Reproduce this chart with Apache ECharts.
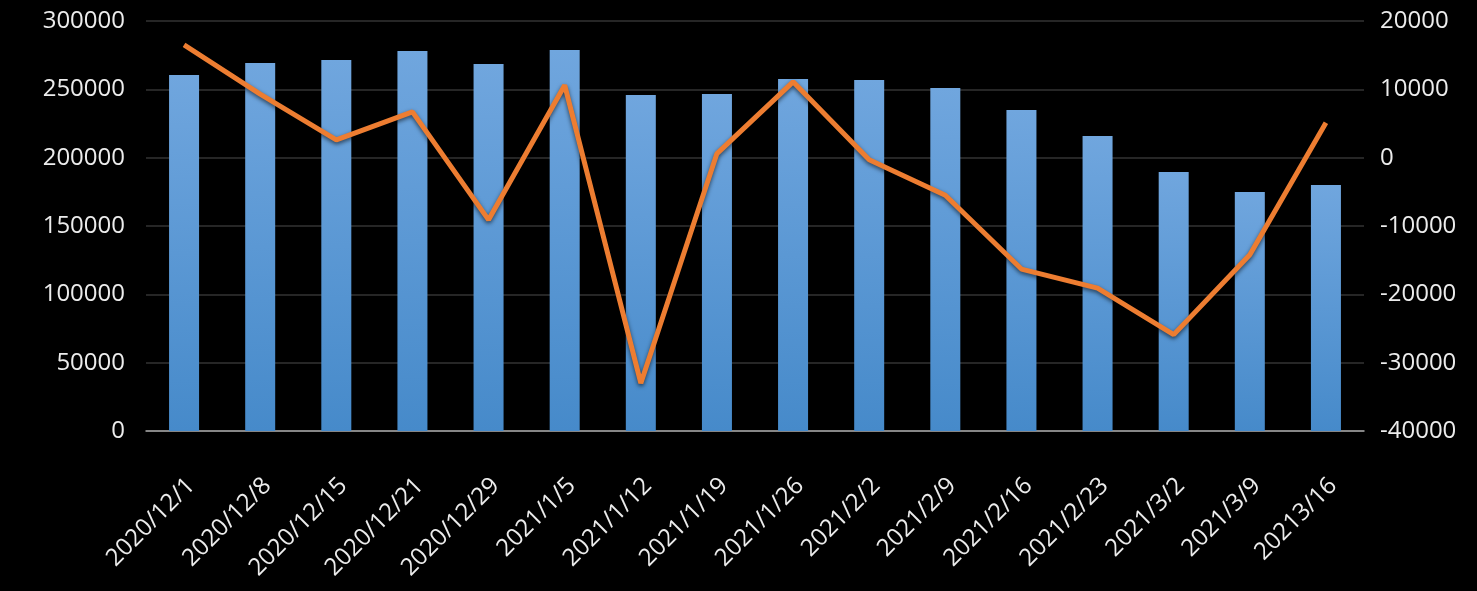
<!DOCTYPE html>
<html><head><meta charset="utf-8">
<script src="https://cdn.jsdelivr.net/npm/echarts@6/dist/echarts.min.js"></script>
<style>html,body{margin:0;padding:0;background:#000}#c{width:1477px;height:591px}</style>
</head><body><div id="c"></div>
<script>
const categories = ['2020/12/1','2020/12/8','2020/12/15','2020/12/21','2020/12/29','2021/1/5','2021/1/12','2021/1/19','2021/1/26','2021/2/2','2021/2/9','2021/2/16','2021/2/23','2021/3/2','2021/3/9','20213/16'];
const barValues = [260500, 269300, 271500, 278000, 268500, 278800, 245900, 246600, 257600, 256800, 251000, 234900, 215900, 189500, 174900, 180000];
const lineValues = [16500, 9300, 2600, 6700, -9100, 10600, -33000, 600, 11100, -300, -5500, -16300, -19100, -25900, -14200, 5100];
const leftTicks = {min: 0, max: 300000, interval: 50000};
const rightTicks = {min: -40000, max: 20000, interval: 10000};

const chart = echarts.init(document.getElementById('c'), null, {renderer: 'canvas'});
const font = '"Open Sans", sans-serif';
const txt = '#ececec';
const plain = v => String(v);
chart.setOption({
  backgroundColor: '#000',
  animation: false,
  grid: {left: 146, right: 113, top: 21, bottom: 160},
  xAxis: {
    type: 'category', data: categories,
    axisLine: {lineStyle: {color: '#a6a6a6', width: 1.5}},
    axisTick: {length: 8, lineStyle: {color: '#a6a6a6', width: 1.5}},
    axisLabel: {rotate: 45, color: txt, fontFamily: font, fontSize: 24, margin: 58, interval: 0,
                padding: [0, -10, 0, 0]}
  },
  yAxis: [
    {type: 'value', min: leftTicks.min, max: leftTicks.max, interval: leftTicks.interval,
     axisLine: {show: false}, axisTick: {show: false},
     axisLabel: {color: txt, fontFamily: font, fontSize: 24, margin: 21, formatter: plain},
     splitLine: {lineStyle: {color: '#262626', width: 2}}},
    {type: 'value', min: rightTicks.min, max: rightTicks.max, interval: rightTicks.interval,
     axisLine: {show: false}, axisTick: {show: false},
     axisLabel: {color: txt, fontFamily: font, fontSize: 24, margin: 16, formatter: plain},
     splitLine: {show: false}}
  ],
  series: [
    {type: 'bar', data: barValues, yAxisIndex: 0, barWidth: 30,
     itemStyle: {color: new echarts.graphic.LinearGradient(0, 0, 0, 1, [
       {offset: 0, color: '#70a6de'}, {offset: 1, color: '#468aca'}])}},
    {type: 'line', data: lineValues, yAxisIndex: 1, symbol: 'none',
     lineStyle: {color: '#ed7d31', width: 5, shadowBlur: 4, shadowColor: 'rgba(0,0,0,0.6)', shadowOffsetY: 2},
     z: 3}
  ]
});
</script></body></html>
